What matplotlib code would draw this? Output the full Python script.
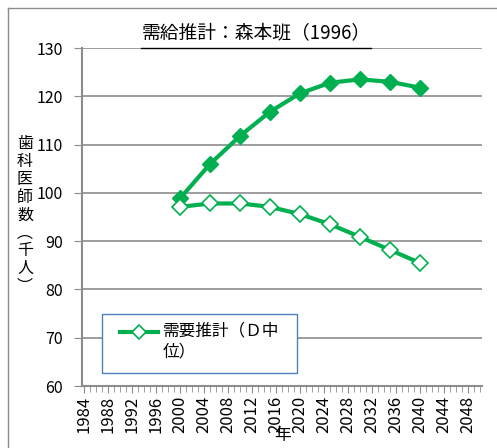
import matplotlib
matplotlib.use('Agg')
import matplotlib.pyplot as plt
from matplotlib.lines import Line2D
from matplotlib.patches import Rectangle
from matplotlib.ticker import MultipleLocator

plt.rcParams['font.family'] = ['Noto Sans CJK JP', 'DejaVu Sans']

# データ
years = [2000, 2005, 2010, 2015, 2020, 2025, 2030, 2035, 2040]
kyokyu = [98.9, 106.0, 111.8, 116.8, 120.6, 122.8, 123.5, 123.0, 121.8]   # 供給（塗りつぶし）
juyo = [97.1, 97.8, 97.8, 97.1, 95.6, 93.5, 90.9, 88.2, 85.5]            # 需要推計（D中位）

title = '需給推計：森本班（1996）'
ylabel = '歯\n科\n医\n師\n数\n︵\n千\n人\n︶'
xlabel = '年'
legend_lines = ['需要推計（Ｄ中', '位）']
xticks = list(range(1984, 2050, 4))

green = '#00b050'
gray = '#8c8c8c'

W, H = 497, 448
fig = plt.figure(figsize=(W / 100, H / 100), dpi=100)
ax = fig.add_axes([82 / W, 1 - 386 / H, 400 / W, 338 / H])

ax.plot(years, kyokyu, color=green, lw=3, marker='D', ms=8.5,
        mfc=green, mec=green, zorder=3)
ax.plot(years, juyo, color=green, lw=3, marker='D', ms=8.5,
        mfc='white', mec=green, mew=1.2, zorder=3)

ax.set_xlim(1983.6, 2050.4)
ax.set_ylim(60, 130)
ax.set_xticks(xticks)
ax.xaxis.set_minor_locator(MultipleLocator(1))
ax.set_yticks(range(60, 131, 10))
ax.tick_params(axis='x', which='major', labelrotation=90, length=5, color=gray,
               labelsize=12, pad=2)
ax.tick_params(axis='x', which='minor', length=4, color=gray)
ax.tick_params(axis='y', length=6, color=gray, labelsize=11.5, pad=8)

ax.grid(axis='y', color=gray, lw=1.2)
ax.set_axisbelow(True)
for s in ['top', 'right']:
    ax.spines[s].set_visible(False)
for s in ['left', 'bottom']:
    ax.spines[s].set_color(gray)
    ax.spines[s].set_linewidth(1.5)

# 凡例（枠・記号・文字）
px = lambda x, y: (x / W, 1 - y / H)
fig.add_artist(Rectangle(px(102, 373), 195 / W, 59 / H, transform=fig.transFigure,
                         facecolor='white', edgecolor='#4f81bd', lw=1, zorder=5))
fig.add_artist(Line2D([120 / W, 158 / W], [1 - 332 / H] * 2, transform=fig.transFigure,
                      color=green, lw=3, zorder=6))
fig.add_artist(Line2D([139 / W], [1 - 332 / H], transform=fig.transFigure,
                      marker='D', ms=7, mfc='white', mec=green, mew=1.2, zorder=7))
for i, s in enumerate(legend_lines):
    fig.text(163 / W, 1 - (331 + 21 * i) / H, s, ha='left', va='center',
             fontsize=12, zorder=8)

t = fig.text(256 / W, 1 - 34 / H, title, ha='center', va='center', fontsize=13.5)
fig.text(25 / W, 1 - 215 / H, ylabel, ha='center', va='center', fontsize=11.5,
         linespacing=1.07)
fig.text(283 / W, 1 - 435 / H, xlabel, ha='center', va='center', fontsize=12)

# 外枠
fig.add_artist(Line2D([8 / W, 1], [1 - 8 / H] * 2,
                      transform=fig.transFigure, color=gray, lw=1))
fig.add_artist(Line2D([8 / W] * 2, [0, 1 - 8 / H],
                      transform=fig.transFigure, color=gray, lw=1))

# タイトルの下線
fig.canvas.draw()
bb = t.get_window_extent().transformed(fig.transFigure.inverted())
fig.add_artist(Line2D([bb.x0, bb.x1], [1 - 48 / H] * 2,
                      transform=fig.transFigure, color='black', lw=1))

fig.savefig('out.png', dpi=100)
